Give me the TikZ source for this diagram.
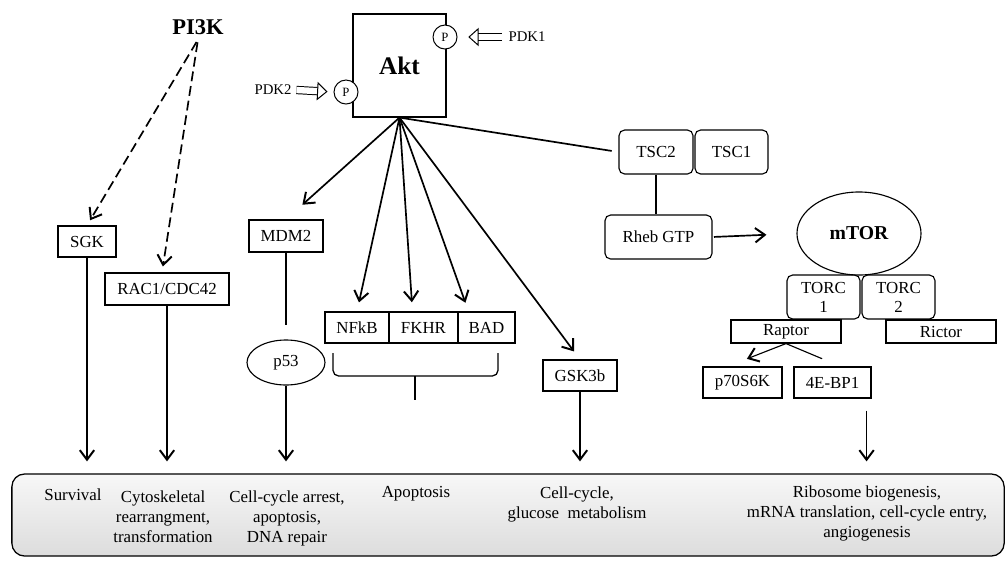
\documentclass[tikz,border=0pt]{standalone}
\usepackage{fontspec}
\setmainfont{Liberation Serif}
\usetikzlibrary{arrows.meta,calc,shapes.geometric}

\begin{document}
\begin{tikzpicture}[x=0.025cm, y=-0.025cm,
  box/.style={draw, line width=0.8pt, inner sep=0pt, font=\fontsize{12}{14}\selectfont},
  rbox/.style={box, rounded corners=4pt},
  arr/.style={line width=1.2pt, -{Straight Barb[length=2.4mm,width=3.6mm,line width=1.4pt]}},
  darr/.style={arr, dash pattern=on 7pt off 3.5pt},
  fat/.style={double, double distance=4.5pt, line width=0.7pt, -{Triangle[open, length=2.6mm, width=4.6mm]}},
  phos/.style={draw, circle, fill=white, line width=0.7pt, inner sep=0pt, minimum size=0.6cm, font=\fontsize{9}{10}\selectfont},
  lab/.style={align=center, font=\fontsize{12}{14.2}\selectfont}
]
\useasboundingbox (0,0) rectangle (1006,560);

%% result band
\node[draw, line width=0.9pt, rounded corners=9pt, top color=gray!6, bottom color=gray!27,
  minimum width=24.8cm, minimum height=2.05cm] (band) at (508,515) {};
\node[lab] (surv) at (73,495) {Survival};
\node[lab, anchor=north] (cyto) at (163,486) {Cytoskeletal\\rearrangment,\\transformation};
\node[lab, anchor=north] (arrest) at (287,486) {Cell-cycle arrest,\\apoptosis,\\DNA repair};
\node[lab] (apop) at (416,494) {Apoptosis};
\node[lab, anchor=north] (glu) at (577,482) {Cell-cycle,\\glucose\ \ metabolism};
\node[lab, anchor=north] (ribo) at (867,481) {Ribosome biogenesis,\\mRNA translation, cell-cycle entry,\\angiogenesis};

%% PI3K branch
\node[font=\fontsize{16}{18}\selectfont\bfseries] (pi3k) at (198,27) {PI3K};
\node[box, minimum width=1.45cm, minimum height=0.775cm] (sgk) at (87,241.5) {SGK};
\node[box, minimum width=3.1cm, minimum height=0.8cm] (rac) at (167,289) {RAC1/CDC42};
\draw[darr, shorten <=2pt, shorten >=0.15cm] (pi3k.south) -- (sgk.north);
\draw[darr, shorten <=2pt, shorten >=0.15cm] (pi3k.south) -- ($(rac.north)+(-5,0)$);

%% Akt
\node[box, minimum width=2.325cm, minimum height=2.575cm, font=\fontsize{18}{20}\selectfont\bfseries] (akt) at (399.5,65.5) {Akt};
\node[phos] (p1) at (445,37) {P};
\node[phos] (p2) at (346,92) {P};
\node[font=\fontsize{10.5}{12}\selectfont] (pdk1) at (527,37) {PDK1};
\node[font=\fontsize{10.5}{12}\selectfont] (pdk2) at (273,90) {PDK2};
\draw[fat, shorten <=1pt, shorten >=0.27cm] (pdk1.west) -- (p1.east);
\draw[fat, shorten <=0pt, shorten >=0.15cm] (pdk2.east) -- (p2.west);

%% Akt targets
\node[box, minimum width=1.85cm, minimum height=0.8cm] (mdm) at (286,236) {MDM2};
\node[box, ellipse, minimum width=1.95cm, minimum height=1.125cm] (p53) at (286,362.5) {p53};
\node[box, minimum width=1.6cm, minimum height=0.775cm] (nfkb) at (357,327.5) {NFkB};
\node[box, minimum width=1.725cm, minimum height=0.775cm] (fkhr) at (423.5,327.5) {FKHR};
\node[box, minimum width=1.425cm, minimum height=0.775cm] (bad) at (486.5,327.5) {BAD};
\node[box, minimum width=1.85cm, minimum height=0.775cm] (gsk) at (580,375.5) {GSK3b};

\draw[arr, shorten >=0.55cm] (akt.south) -- (mdm.north);
\draw[arr, shorten >=0.23cm] (akt.south) -- (nfkb.north);
\draw[arr, shorten >=0.23cm] (akt.south) -- ($(fkhr.north)+(-11,0)$);
\draw[arr, shorten >=0.23cm] (akt.south) -- ($(bad.north)+(-18,0)$);
\draw[arr, shorten >=0.25cm] (akt.south) -- (gsk.north);

\draw[line width=0.8pt, shorten >=0.37cm] (mdm.south) -- (p53.north);
\draw[line width=0.9pt, rounded corners=4pt] (333,353) -- (333,376) -- (498,376) -- (498,353);
\draw[line width=0.9pt] (415,376) -- (415,400);

%% TSC / mTOR
\node[rbox, minimum width=1.85cm, minimum height=1.1cm] (tsc2) at (656,152) {TSC2};
\node[rbox, minimum width=1.825cm, minimum height=1.1cm] (tsc1) at (731.5,152) {TSC1};
\node[rbox, minimum width=2.675cm, minimum height=1.1cm] (rheb) at (658.5,237) {Rheb GTP};
\node[box, ellipse, minimum width=3.1cm, minimum height=2.075cm, font=\fontsize{14}{16}\selectfont\bfseries] (mtor) at (859,233.5) {mTOR};
\node[rbox, align=center, minimum width=1.825cm, minimum height=1.1cm, font=\fontsize{12}{13.5}\selectfont] (torc1) at (823.5,297) {TORC\\1};
\node[rbox, align=center, minimum width=1.825cm, minimum height=1.1cm, font=\fontsize{12}{13.5}\selectfont] (torc2) at (898.5,297) {TORC\\2};
\node[box, minimum width=2.75cm, minimum height=0.575cm] (raptor) at (786,331.5) {Raptor};
\node[box, minimum width=2.75cm, minimum height=0.575cm] (rictor) at (941,331.5) {Rictor};
\node[box, minimum width=1.975cm, minimum height=0.775cm] (p70) at (742.5,382.5) {p70S6K};
\node[box, minimum width=1.925cm, minimum height=0.775cm] (ebp) at (832.5,382.5) {4E-BP1};

\draw[line width=1.2pt, shorten >=0.17cm] (akt.south) -- (tsc2.west);
\draw[line width=0.8pt] (tsc2.south) -- (tsc2.south |- rheb.north);
\draw[arr, shorten <=1pt, shorten >=0.75cm] (rheb.east) -- (mtor.west);
\draw[arr, line width=0.8pt, shorten >=0.52cm] (raptor.south) -- ($(p70.north)+(-15,0)$);
\draw[line width=0.8pt, shorten >=0.5cm] (raptor.south) -- ($(ebp.north)+(8,0)$);

%% down to the band
\coordinate (out) at ($(ebp.south east)+(-5,12)$);
\draw[arr, line width=0.8pt, shorten >=0.3cm] (sgk.south) -- (sgk.south |- band.north);
\draw[arr, line width=0.8pt, shorten >=0.3cm] (rac.south) -- (rac.south |- band.north);
\draw[arr, line width=0.8pt, shorten >=0.3cm] (p53.south) -- (p53.south |- band.north);
\draw[arr, line width=0.8pt, shorten >=0.3cm] (gsk.south) -- (gsk.south |- band.north);
\draw[arr, line width=0.8pt, shorten >=0.3cm] (out) -- (out |- band.north);
\end{tikzpicture}
\end{document}
